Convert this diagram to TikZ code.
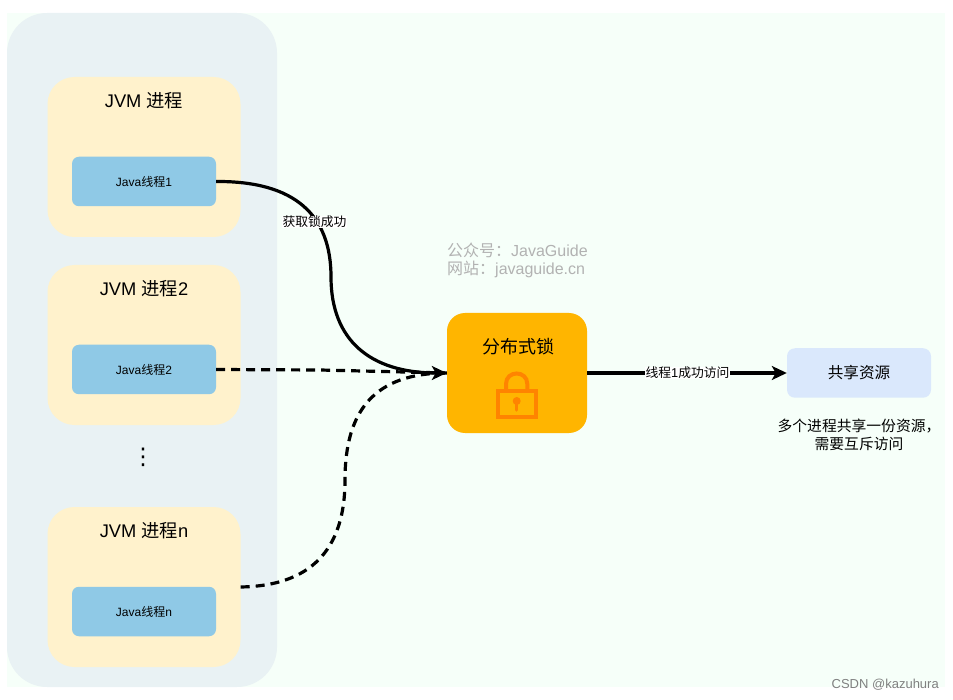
\documentclass[tikz,border=0pt]{standalone}
\usepackage{fontspec}
\setmainfont{Liberation Sans}
\newfontfamily\cjk{Noto Sans CJK SC}
\newfontfamily\symb{DejaVu Sans}
\newcommand{\zh}[1]{{\cjk #1}}
\newcommand{\fsize}[1]{\fontsize{#1}{#1}\selectfont}
\usetikzlibrary{arrows.meta,positioning}
\definecolor{bgGreen}{HTML}{F6FFF9}
\definecolor{poolBlue}{HTML}{E9F2F4}
\definecolor{jvmYellow}{HTML}{FFF2CC}
\definecolor{threadBlue}{HTML}{8FC9E6}
\definecolor{lockOrange}{HTML}{FFB500}
\definecolor{iconOrange}{HTML}{FF8400}
\definecolor{resBlue}{HTML}{DAE8FC}
\begin{document}
\begin{tikzpicture}[
    x=1pt, y=-1pt,
    >={Stealth[length=15pt,width=14pt,inset=4pt]},
    jvm/.style={
		rectangle,
		rounded corners=27pt,
		fill=jvmYellow,
		minimum width=193pt,
		minimum height=160pt,
		inner sep=0pt
	},
	thread/.style={
		rectangle,
		rounded corners=7pt,
		fill=threadBlue,
		minimum width=144pt,
		minimum height=49.5pt,
		inner sep=0pt,
		font=\fsize{12}
	},
	title/.style={
		font=\fsize{18.3},
		inner sep=0pt
	},
	label/.style={
		fill=white,
		inner sep=0.5pt,
		font=\fsize{12.8}
	},
	watermark/.style={
		text=black!30,
		inner sep=0pt,
		font=\fsize{16}
	},
	link/.style={
		line width=3.2pt
	},
	linkdash/.style={
		line width=3.2pt,
		dash pattern=on 9pt off 6pt
	}
  ]
  \useasboundingbox (0,0) rectangle (953,700);
  % background and the pool of processes
  \fill [bgGreen] (7,13) rectangle (945,687);
  \node [rectangle, rounded corners=40pt, fill=poolBlue, minimum width=270pt, minimum height=674pt, inner sep=0pt] (pool) at (142,350) {};

  % We start by placing the blocks
  \node [jvm] (jvm1) at (144,157) {};
  \node [jvm, below of=jvm1, node distance=188pt] (jvm2) {};
  \node [jvm, below of=jvm2, node distance=188pt, yshift=-54pt] (jvmn) {};

  \node [thread, below of=jvm1, node distance=24.5pt] (thread1) {Java\zh{线程}1};
  \node [thread, below of=jvm2, node distance=24.5pt] (thread2) {Java\zh{线程}2};
  \node [thread, below of=jvmn, node distance=24.5pt] (threadn) {Java\zh{线程}n};

  \node [title, above of=thread1, node distance=81pt] (title1) {JVM \zh{进程}};
  \node [title, above of=thread2, node distance=81pt] (title2) {JVM \zh{进程}2};
  \node [title, above of=threadn, node distance=81pt] (titlen) {JVM \zh{进程}n};

  \node [inner sep=0pt, font=\symb\fsize{23}] (dots) at (143,457) {⋮};

  \node [rectangle, rounded corners=18pt, fill=lockOrange, minimum width=140pt, minimum height=120pt, inner sep=0pt] (lock) at (517,373) {};
  \node [title, font=\fsize{18}] (locktitle) at (518,347) {\zh{分布式锁}};

  % lock icon
  \draw [iconOrange, line width=4pt] (498,391) rectangle (535.7,416.5);
  \draw [iconOrange, line width=4pt] (506,391) -- (506,384) .. controls (506,370) and (527.3,370) .. (527.3,384) -- (527.3,391);
  \fill [iconOrange] (516.7,401) circle (4pt);
  \draw [iconOrange, line width=3.5pt, line cap=round] (516.7,401) -- (516.7,410);

  \node [rectangle, rounded corners=8pt, fill=resBlue, minimum width=144pt, minimum height=49.5pt, inner sep=0pt, font=\fsize{15.6}] (res) at (859,373) {\zh{共享资源}};
  \node [align=center, inner sep=0pt, font=\fsize{14.8}] (resnote) at (859,435) {\zh{多个进程共享一份资源，}\\[3pt]\zh{需要互斥访问}};

  \node [watermark, anchor=west] (mark1) at (447,250) {\zh{公众号：}JavaGuide};
  \node [watermark, anchor=west] (mark2) at (447,269) {\zh{网站：}javaguide.cn};
  \node [text=black!50, inner sep=0pt, anchor=east, font=\fsize{13}] (csdn) at (939,685) {CSDN @kazuhura};

  \draw [link,->] (thread1.east) .. controls (295,181) and (331,215) .. (331,277) .. controls (331,340) and (370,373) .. (lock.west);
  \draw [linkdash] (thread2.east) -- (320,370) -- (lock.west);
  \draw [linkdash] (jvmn.east) .. controls (300,586) and (345,560) .. (345,480) .. controls (345,410) and (375,373) .. (lock.west);
  \draw [link,->] (lock.east) -- (res.west);

  \node [label] (label1) at (314.5,222) {\zh{获取锁成功}};
  \node [label] (label2) at (687.5,373) {\zh{线程}1\zh{成功访问}};
\end{tikzpicture}
\end{document}
